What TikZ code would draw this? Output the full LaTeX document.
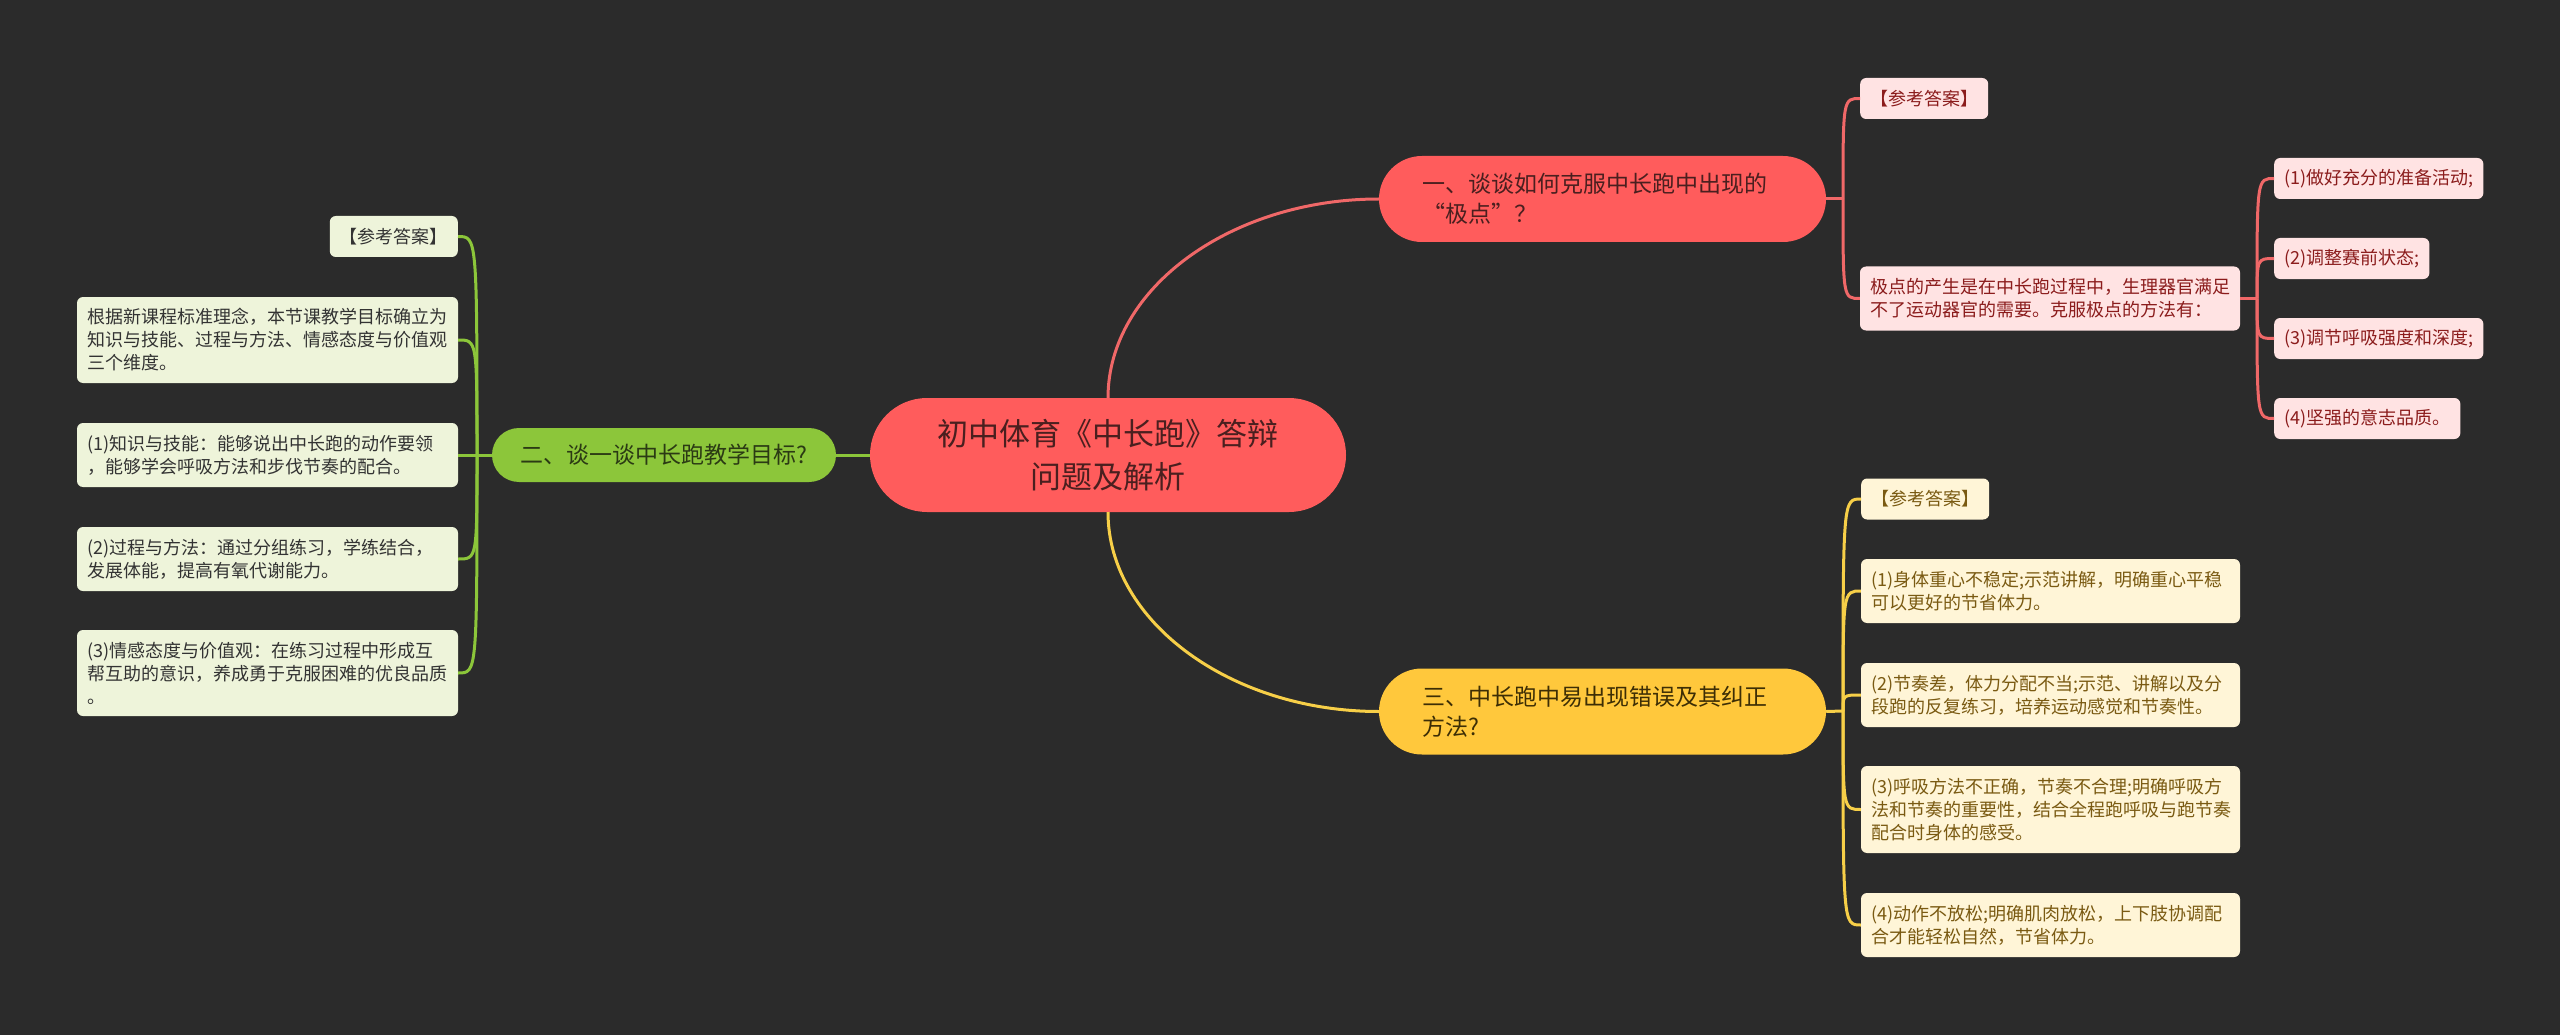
\documentclass[tikz,border=0pt]{standalone}
\usepackage{fontspec}
\newfontfamily\cjk{Noto Sans CJK SC}
\definecolor{bgc}{HTML}{2B2B2B}
\definecolor{redf}{HTML}{FF5C5C}
\definecolor{redt}{HTML}{4A1F1F}
\definecolor{redl}{HTML}{F06868}
\definecolor{redleaf}{HTML}{FFE3E3}
\definecolor{redlt}{HTML}{8B1C1C}
\definecolor{grnf}{HTML}{8CC63A}
\definecolor{grnt}{HTML}{2B3A14}
\definecolor{grnleaf}{HTML}{EEF4DA}
\definecolor{grnlt}{HTML}{333333}
\definecolor{yelf}{HTML}{FFC83C}
\definecolor{yelt}{HTML}{3D2E05}
\definecolor{yell}{HTML}{F7CF48}
\definecolor{yelleaf}{HTML}{FFF5D7}
\definecolor{yellt}{HTML}{7A5A12}
\begin{document}
\begin{tikzpicture}[x=1pt,y=-1pt,
  rootbox/.style={fill=redf, text=redt, rounded corners=57pt, minimum width=476pt, minimum height=114pt, align=center, inner sep=0pt, font=\cjk\fontsize{31}{43}\selectfont},
  mainbox/.style={rounded corners=43pt, minimum width=447pt, minimum height=86pt, inner xsep=43pt, inner ysep=0pt, text width=361pt, align=left, font=\cjk\fontsize{23}{30}\selectfont},
  leafbox/.style={rounded corners=6pt, inner xsep=10pt, inner ysep=3pt, align=left, font=\cjk\fontsize{18}{23}\selectfont},
  oneline/.style={minimum height=41pt},
  redleafbox/.style={leafbox, fill=redleaf, text=redlt},
  grnleafbox/.style={leafbox, fill=grnleaf, text=grnlt},
  yelleafbox/.style={leafbox, fill=yelleaf, text=yellt},
  rline/.style={draw=redl, line width=3pt},
  gline/.style={draw=grnf, line width=3pt},
  yline/.style={draw=yell, line width=3pt}
]
\fill[bgc] (0,0) rectangle (2560,1035);
\useasboundingbox (0,0) rectangle (2560,1035);

% root and main branches
\node[rootbox] (root) at (1108,455) {初中体育《中长跑》答辩\\问题及解析};
\node[mainbox, fill=redf, text=redt] (b1) at (1602.5,199) {一、谈谈如何克服中长跑中出现的\\“极点”？};
\node[rounded corners=27pt, minimum width=344pt, minimum height=54pt, inner sep=0pt, fill=grnf, text=grnt, font=\cjk\fontsize{23}{30}\selectfont] (b2) at (664,455) {二、谈一谈中长跑教学目标?};
\node[mainbox, fill=yelf, text=yelt] (b3) at (1602.5,711.5) {三、中长跑中易出现错误及其纠正\\方法?};

% left leaves
\node[grnleafbox, oneline, anchor=east] (l0) at (458,236.5) {【参考答案】};
\node[grnleafbox, minimum width=381pt, minimum height=86pt, text width=361pt] (l1) at (267.5,340) {根据新课程标准理念，本节课教学目标确立为\\知识与技能、过程与方法、情感态度与价值观\\三个维度。};
\node[grnleafbox, minimum width=381pt, minimum height=64pt, text width=361pt] (l2) at (267.5,455) {(1)知识与技能：能够说出中长跑的动作要领\\，能够学会呼吸方法和步伐节奏的配合。};
\node[grnleafbox, minimum width=381pt, minimum height=64pt, text width=361pt] (l3) at (267.5,559) {(2)过程与方法：通过分组练习，学练结合，\\发展体能，提高有氧代谢能力。};
\node[grnleafbox, minimum width=381pt, minimum height=86pt, text width=361pt] (l4) at (267.5,673) {(3)情感态度与价值观：在练习过程中形成互\\帮互助的意识，养成勇于克服困难的优良品质\\。};

% red leaves
\node[redleafbox, oneline, anchor=west] (r0) at (1860,98.5) {【参考答案】};
\node[redleafbox, minimum width=380pt, minimum height=64pt, text width=360pt] (r1) at (2050,298.5) {极点的产生是在中长跑过程中，生理器官满足\\不了运动器官的需要。克服极点的方法有：};
\node[redleafbox, oneline, anchor=west] (s1) at (2274,178.5) {(1)做好充分的准备活动;};
\node[redleafbox, oneline, anchor=west] (s2) at (2274,258.5) {(2)调整赛前状态;};
\node[redleafbox, oneline, anchor=west] (s3) at (2274,338.5) {(3)调节呼吸强度和深度;};
\node[redleafbox, oneline, anchor=west] (s4) at (2274,418.5) {(4)坚强的意志品质。};

% yellow leaves
\node[yelleafbox, oneline, anchor=west] (y0) at (1861,499) {【参考答案】};
\node[yelleafbox, minimum width=379pt, minimum height=64pt, text width=359pt] (y1) at (2050.5,591) {(1)身体重心不稳定;示范讲解，明确重心平稳\\可以更好的节省体力。};
\node[yelleafbox, minimum width=379pt, minimum height=64pt, text width=359pt] (y2) at (2050.5,695) {(2)节奏差，体力分配不当;示范、讲解以及分\\段跑的反复练习，培养运动感觉和节奏性。};
\node[yelleafbox, minimum width=379pt, minimum height=87pt, text width=359pt] (y3) at (2050.5,809.5) {(3)呼吸方法不正确，节奏不合理;明确呼吸方\\法和节奏的重要性，结合全程跑呼吸与跑节奏\\配合时身体的感受。};
\node[yelleafbox, minimum width=379pt, minimum height=64pt, text width=359pt] (y4) at (2050.5,925) {(4)动作不放松;明确肌肉放松，上下肢协调配\\合才能轻松自然，节省体力。};

% junctions
\coordinate (jg) at (477,455);
\coordinate (jr) at (1843,199);
\coordinate (jy) at (1843,711);
\coordinate (js) at (2257,298.5);

% root to main branches
\draw[rline] (root.north) .. controls +(0,-110) and +(-147,0) .. (b1.west);
\draw[yline] (root.south) .. controls +(0,110) and +(-147,0) .. (b3.west);
\draw[gline] (root.west) -- (b2.east);

% green connectors
\draw[gline] (b2.west) -- (jg) -- (l2.east);
\foreach \n in {l0,l1,l3,l4}
  \draw[gline] (jg) .. controls (jg |- \n.east) and (jg |- \n.east) .. (\n.east);

% red connectors
\draw[rline] (b1.east) -- (jr);
\foreach \n in {r0,r1}
  \draw[rline] (jr) .. controls (jr |- \n.west) and (jr |- \n.west) .. (\n.west);
\draw[rline] (r1.east) -- (js);
\foreach \n in {s1,s2,s3,s4}
  \draw[rline] (js) .. controls (js |- \n.west) and (js |- \n.west) .. (\n.west);

% yellow connectors
\draw[yline] (b3.east) -- (jy);
\foreach \n in {y0,y1,y2,y3,y4}
  \draw[yline] (jy) .. controls (jy |- \n.west) and (jy |- \n.west) .. (\n.west);
\end{tikzpicture}
\end{document}
